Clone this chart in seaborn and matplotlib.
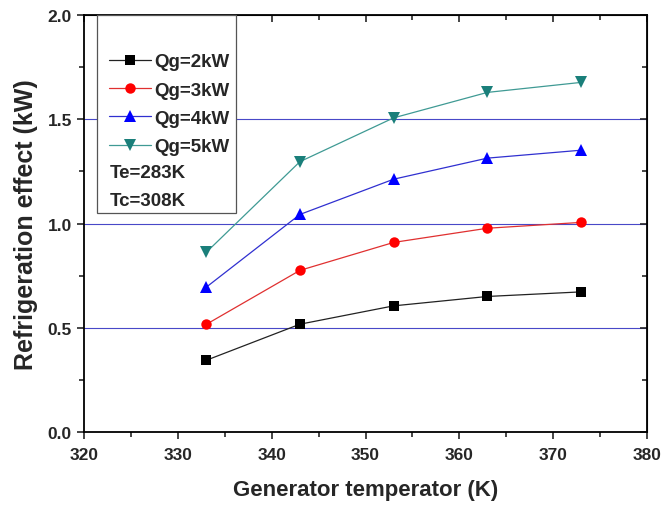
import pandas as pd
import matplotlib
matplotlib.use('Agg')
import matplotlib.pyplot as plt
import seaborn as sns
from matplotlib.patches import Rectangle
from matplotlib.ticker import MultipleLocator, FormatStrFormatter

## Data
temps = [333, 343, 353, 363, 373]
qg_2kw = [0.345, 0.518, 0.606, 0.651, 0.673]
qg_3kw = [0.517, 0.776, 0.910, 0.978, 1.006]
qg_4kw = [0.695, 1.044, 1.213, 1.314, 1.352]
qg_5kw = [0.862, 1.297, 1.507, 1.629, 1.677]
series_names = ['Qg=2kW', 'Qg=3kW', 'Qg=4kW', 'Qg=5kW']
notes = ['Te=283K', 'Tc=308K']

## Long form frame for seaborn
frames = []
for name, vals in zip(series_names, [qg_2kw, qg_3kw, qg_4kw, qg_5kw]):
    frames.append(pd.DataFrame({'T': temps, 'Q': vals, 'series': name}))
data = pd.concat(frames, ignore_index=True)

sns.set_style('white')
plt.rcParams['font.family'] = ['Liberation Sans', 'DejaVu Sans']
plt.rcParams['font.weight'] = 'bold'

colors = {'Qg=2kW': '#000000', 'Qg=3kW': '#ff0000', 'Qg=4kW': '#0000ff', 'Qg=5kW': '#1a7f7a'}
line_colors = {'Qg=2kW': '#222222', 'Qg=3kW': '#e03030', 'Qg=4kW': '#3030d0', 'Qg=5kW': '#3f9a94'}
markers = {'Qg=2kW': 's', 'Qg=3kW': 'o', 'Qg=4kW': '^', 'Qg=5kW': 'v'}
msizes = {'Qg=2kW': 6.5, 'Qg=3kW': 7.5, 'Qg=4kW': 8, 'Qg=5kW': 8}

fig = plt.figure(figsize=(6.63, 5.06), dpi=100)
ax = fig.add_axes([84.3 / 663, 1 - 433.3 / 506, (646.7 - 84.3) / 663, (433.3 - 16) / 506])

# horizontal guide lines
for y in [0.5, 1.0, 1.5]:
    ax.axhline(y, color='#4848c8', lw=0.8, zorder=0)

handles = []
for name in series_names:
    sub = data[data['series'] == name]
    sns.lineplot(data=sub, x='T', y='Q', ax=ax, color=line_colors[name], lw=0.9,
                 marker=markers[name], markersize=msizes[name],
                 markerfacecolor=colors[name], markeredgecolor=colors[name],
                 markeredgewidth=0, zorder=3)
    handles.append(ax.lines[-1])

ax.set_xlim(320, 380)
ax.set_ylim(0, 2.0)
ax.xaxis.set_major_locator(MultipleLocator(10))
ax.xaxis.set_minor_locator(MultipleLocator(5))
ax.yaxis.set_major_locator(MultipleLocator(0.5))
ax.yaxis.set_minor_locator(MultipleLocator(0.25))
ax.yaxis.set_major_formatter(FormatStrFormatter('%.1f'))
ax.tick_params(which='major', direction='out', length=5, width=1.2, labelsize=12.5,
               bottom=True, left=True)
ax.tick_params(which='minor', direction='out', length=3.5, width=1.2, bottom=True, left=True)
ax.tick_params(axis='x', which='major', pad=5.5)
ax.tick_params(axis='y', which='major', pad=4)
for sp in ax.spines.values():
    sp.set_linewidth(1.3)
    sp.set_color('black')

# mirrored inward ticks on top and right
top = ax.secondary_xaxis('top')
top.xaxis.set_major_locator(MultipleLocator(10))
top.xaxis.set_minor_locator(MultipleLocator(5))
top.tick_params(which='major', direction='in', length=5, width=1.2, labeltop=False)
top.tick_params(which='minor', direction='in', length=3.5, width=1.2)
right = ax.secondary_yaxis('right')
right.yaxis.set_major_locator(MultipleLocator(0.5))
right.yaxis.set_minor_locator(MultipleLocator(0.25))
right.tick_params(which='major', direction='in', length=5, width=1.2, labelright=False)
right.tick_params(which='minor', direction='in', length=3.5, width=1.2)

ax.set_xlabel('Generator temperator (K)', fontsize=16, fontweight='bold', labelpad=12)
ax.set_ylabel('Refrigeration effect (kW)', fontsize=18, fontweight='bold', labelpad=7)

# legend box with notes, like the original
box = Rectangle((97 / 663, 1 - 214 / 506), (236 - 97) / 663, (214 - 16) / 506,
                transform=fig.transFigure, facecolor='white', edgecolor='#555555',
                lw=0.9, zorder=4)
fig.add_artist(box)
leg = fig.legend(handles, series_names, loc='upper left', bbox_to_anchor=(109 / 663, 1 - 54 / 506),
                 frameon=False, fontsize=13.5, handlelength=2.22, handletextpad=0.2,
                 labelspacing=0.6, borderpad=0, borderaxespad=0)
leg.set_zorder(5)
for t in leg.get_texts():
    t.set_fontweight('bold')
for i, note in enumerate(notes):
    fig.text(110 / 663, 1 - (173 + 28.5 * i) / 506, note, fontsize=13.5, fontweight='bold',
             va='center', ha='left', zorder=6)

# make sure tick labels come out bold
fig.canvas.draw()
for lbl in ax.get_xticklabels() + ax.get_yticklabels():
    lbl.set_fontweight('bold')

plt.savefig('out.png', dpi=100)
